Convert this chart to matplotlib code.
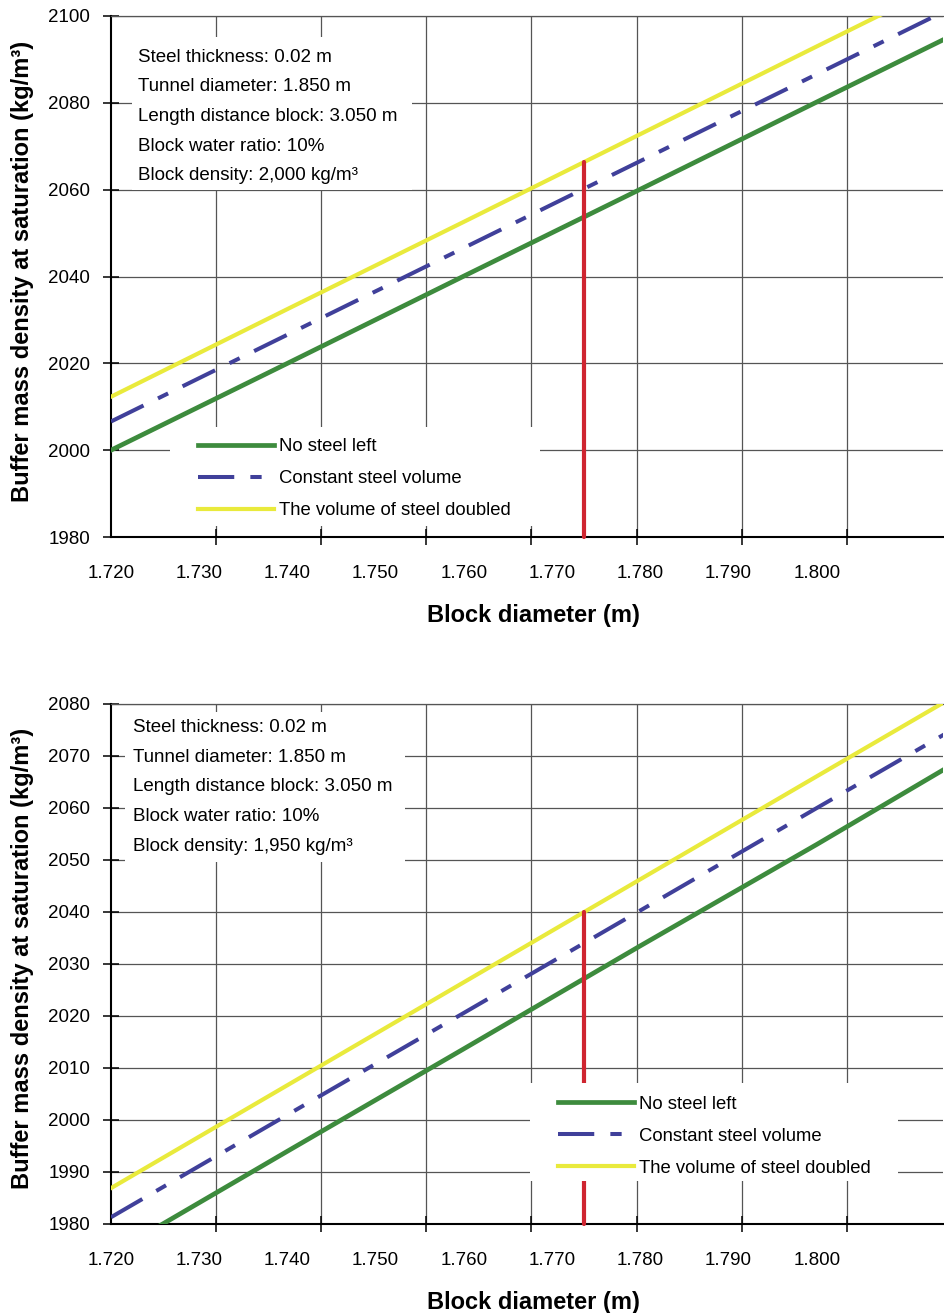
import numpy as np
import matplotlib
matplotlib.use("Agg")
import matplotlib.pyplot as plt
from matplotlib.patches import Rectangle

plt.rcParams['font.family'] = ['Liberation Sans', 'DejaVu Sans']

# block diameter (m)
diam = [1.720, 1.740, 1.760, 1.780, 1.800, 1.815]

# top chart: block density 2,000 kg/m3
top_no_steel = [2000.0, 2020.0, 2040.1, 2060.1, 2080.2, 2095.2]
top_const = [2006.6, 2026.6, 2046.6, 2066.6, 2086.6, 2101.6]
top_doubled = [2012.3, 2032.5, 2052.6, 2072.8, 2093.0, 2108.1]

# bottom chart: block density 1,950 kg/m3
bot_no_steel = [1974.2, 1994.0, 2013.7, 2033.5, 2053.0, 2068.0]
bot_const = [1981.3, 2001.0, 2020.6, 2040.3, 2060.0, 2074.7]
bot_doubled = [1986.9, 2006.7, 2026.5, 2046.3, 2066.1, 2080.9]

red_diam = 1.7736

x_labels = ['1.720', '1.730', '1.740', '1.750', '1.760', '1.770', '1.780', '1.790', '1.800']
x_label_vals = [1.720, 1.730, 1.740, 1.750, 1.760, 1.770, 1.780, 1.790, 1.800]

series_names = ['No steel left', 'Constant steel volume', 'The volume of steel doubled']

top_notes = ['Steel thickness: 0.02 m', 'Tunnel diameter: 1.850 m',
             'Length distance block: 3.050 m', 'Block water ratio: 10%',
             'Block density: 2,000 kg/m³']
bot_notes = ['Steel thickness: 0.02 m', 'Tunnel diameter: 1.850 m',
             'Length distance block: 3.050 m', 'Block water ratio: 10%',
             'Block density: 1,950 kg/m³']

GREEN = '#3d8b3d'
BLUE = '#40409a'
YELLOW = '#e9ea3c'
RED = '#cf2530'
GRID = '#555555'
grid_step = 0.011914
xmax = 1.8143


def draw_panel(ax, no_steel, const, doubled, ylim, ystep, notes, note_xy, note_box,
               leg_anchor, leg_box):
    ax.set_axisbelow(True)
    ax.plot(diam, no_steel, color=GREEN, lw=3.4, zorder=3, label=series_names[0])
    ax.plot(diam, const, color=BLUE, lw=2.9, zorder=3, label=series_names[1],
            dashes=(9, 4, 2.8, 4))
    ax.plot(diam, doubled, color=YELLOW, lw=3.0, zorder=3, label=series_names[2])

    red_top = np.interp(red_diam, diam, doubled)
    ax.plot([red_diam, red_diam], [ylim[0], red_top], color=RED, lw=3.0,
            solid_capstyle='round', zorder=4, clip_on=False)

    ax.set_xlim(1.720, xmax)
    ax.set_ylim(*ylim)

    # gridlines / tick marks
    ax.set_xticks(1.720 + grid_step * np.arange(8), minor=True)
    ax.set_xticks(x_label_vals)
    ax.set_xticklabels(x_labels)
    ax.tick_params(axis='x', which='major', length=0, pad=20, labelsize=13.5)
    ax.tick_params(axis='x', which='minor', length=11, width=1.1, direction='inout', color='black')
    ax.grid(True, axis='x', which='minor', color=GRID, lw=0.9)

    ax.set_yticks(np.arange(ylim[0], ylim[1] + 0.1, ystep))
    ax.tick_params(axis='y', length=12, width=1.1, direction='inout', pad=9, labelsize=13.5)
    ax.grid(True, axis='y', which='major', color=GRID, lw=0.9)

    ax.spines['right'].set_visible(False)
    ax.spines['top'].set_color(GRID)
    ax.spines['top'].set_linewidth(0.9)
    ax.spines['left'].set_linewidth(1.5)
    ax.spines['bottom'].set_linewidth(1.5)

    ax.set_xlabel('Block diameter (m)', fontsize=17, fontweight='bold')
    ax.set_ylabel('Buffer mass density at saturation (kg/m³)', fontsize=17, fontweight='bold')
    ax.xaxis.set_label_coords(0.508, -0.128)
    ax.yaxis.set_label_coords(-0.093, 0.51)

    # white boxes behind notes and legend
    ax.add_patch(Rectangle(note_box[:2], note_box[2], note_box[3], transform=ax.transAxes,
                           facecolor='white', edgecolor='none', zorder=1))
    ax.add_patch(Rectangle(leg_box[:2], leg_box[2], leg_box[3], transform=ax.transAxes,
                           facecolor='white', edgecolor='none', zorder=5))
    ax.text(note_xy[0], note_xy[1], '\n'.join(notes), transform=ax.transAxes,
            fontsize=13.5, va='top', ha='left', linespacing=1.97, zorder=6)

    leg = ax.legend(loc='upper left', bbox_to_anchor=leg_anchor, frameon=False,
                    fontsize=13.3, handlelength=4.1, handletextpad=0.27,
                    labelspacing=0.82, borderpad=0, borderaxespad=0)
    leg.set_zorder(6)


fig = plt.figure(figsize=(9.44, 13.13), dpi=100)
ax1 = fig.add_axes([111 / 944, 1 - 537 / 1313, 832 / 944, 521 / 1313])
ax2 = fig.add_axes([111 / 944, 1 - 1224 / 1313, 832 / 944, 520 / 1313])

draw_panel(ax1, top_no_steel, top_const, top_doubled, (1980, 2100), 20, top_notes,
           (0.0325, 0.937), (0.0252, 0.666, 0.3365, 0.2937),
           (0.1046, 0.190), (0.0709, 0.0211, 0.4447, 0.19))
draw_panel(ax2, bot_no_steel, bot_const, bot_doubled, (1980, 2080), 10, bot_notes,
           (0.0264, 0.971), (0.0168, 0.696, 0.3365, 0.2885),
           (0.5373, 0.247), (0.5036, 0.0827, 0.4423, 0.1885))

fig.savefig('out.png', dpi=100)
